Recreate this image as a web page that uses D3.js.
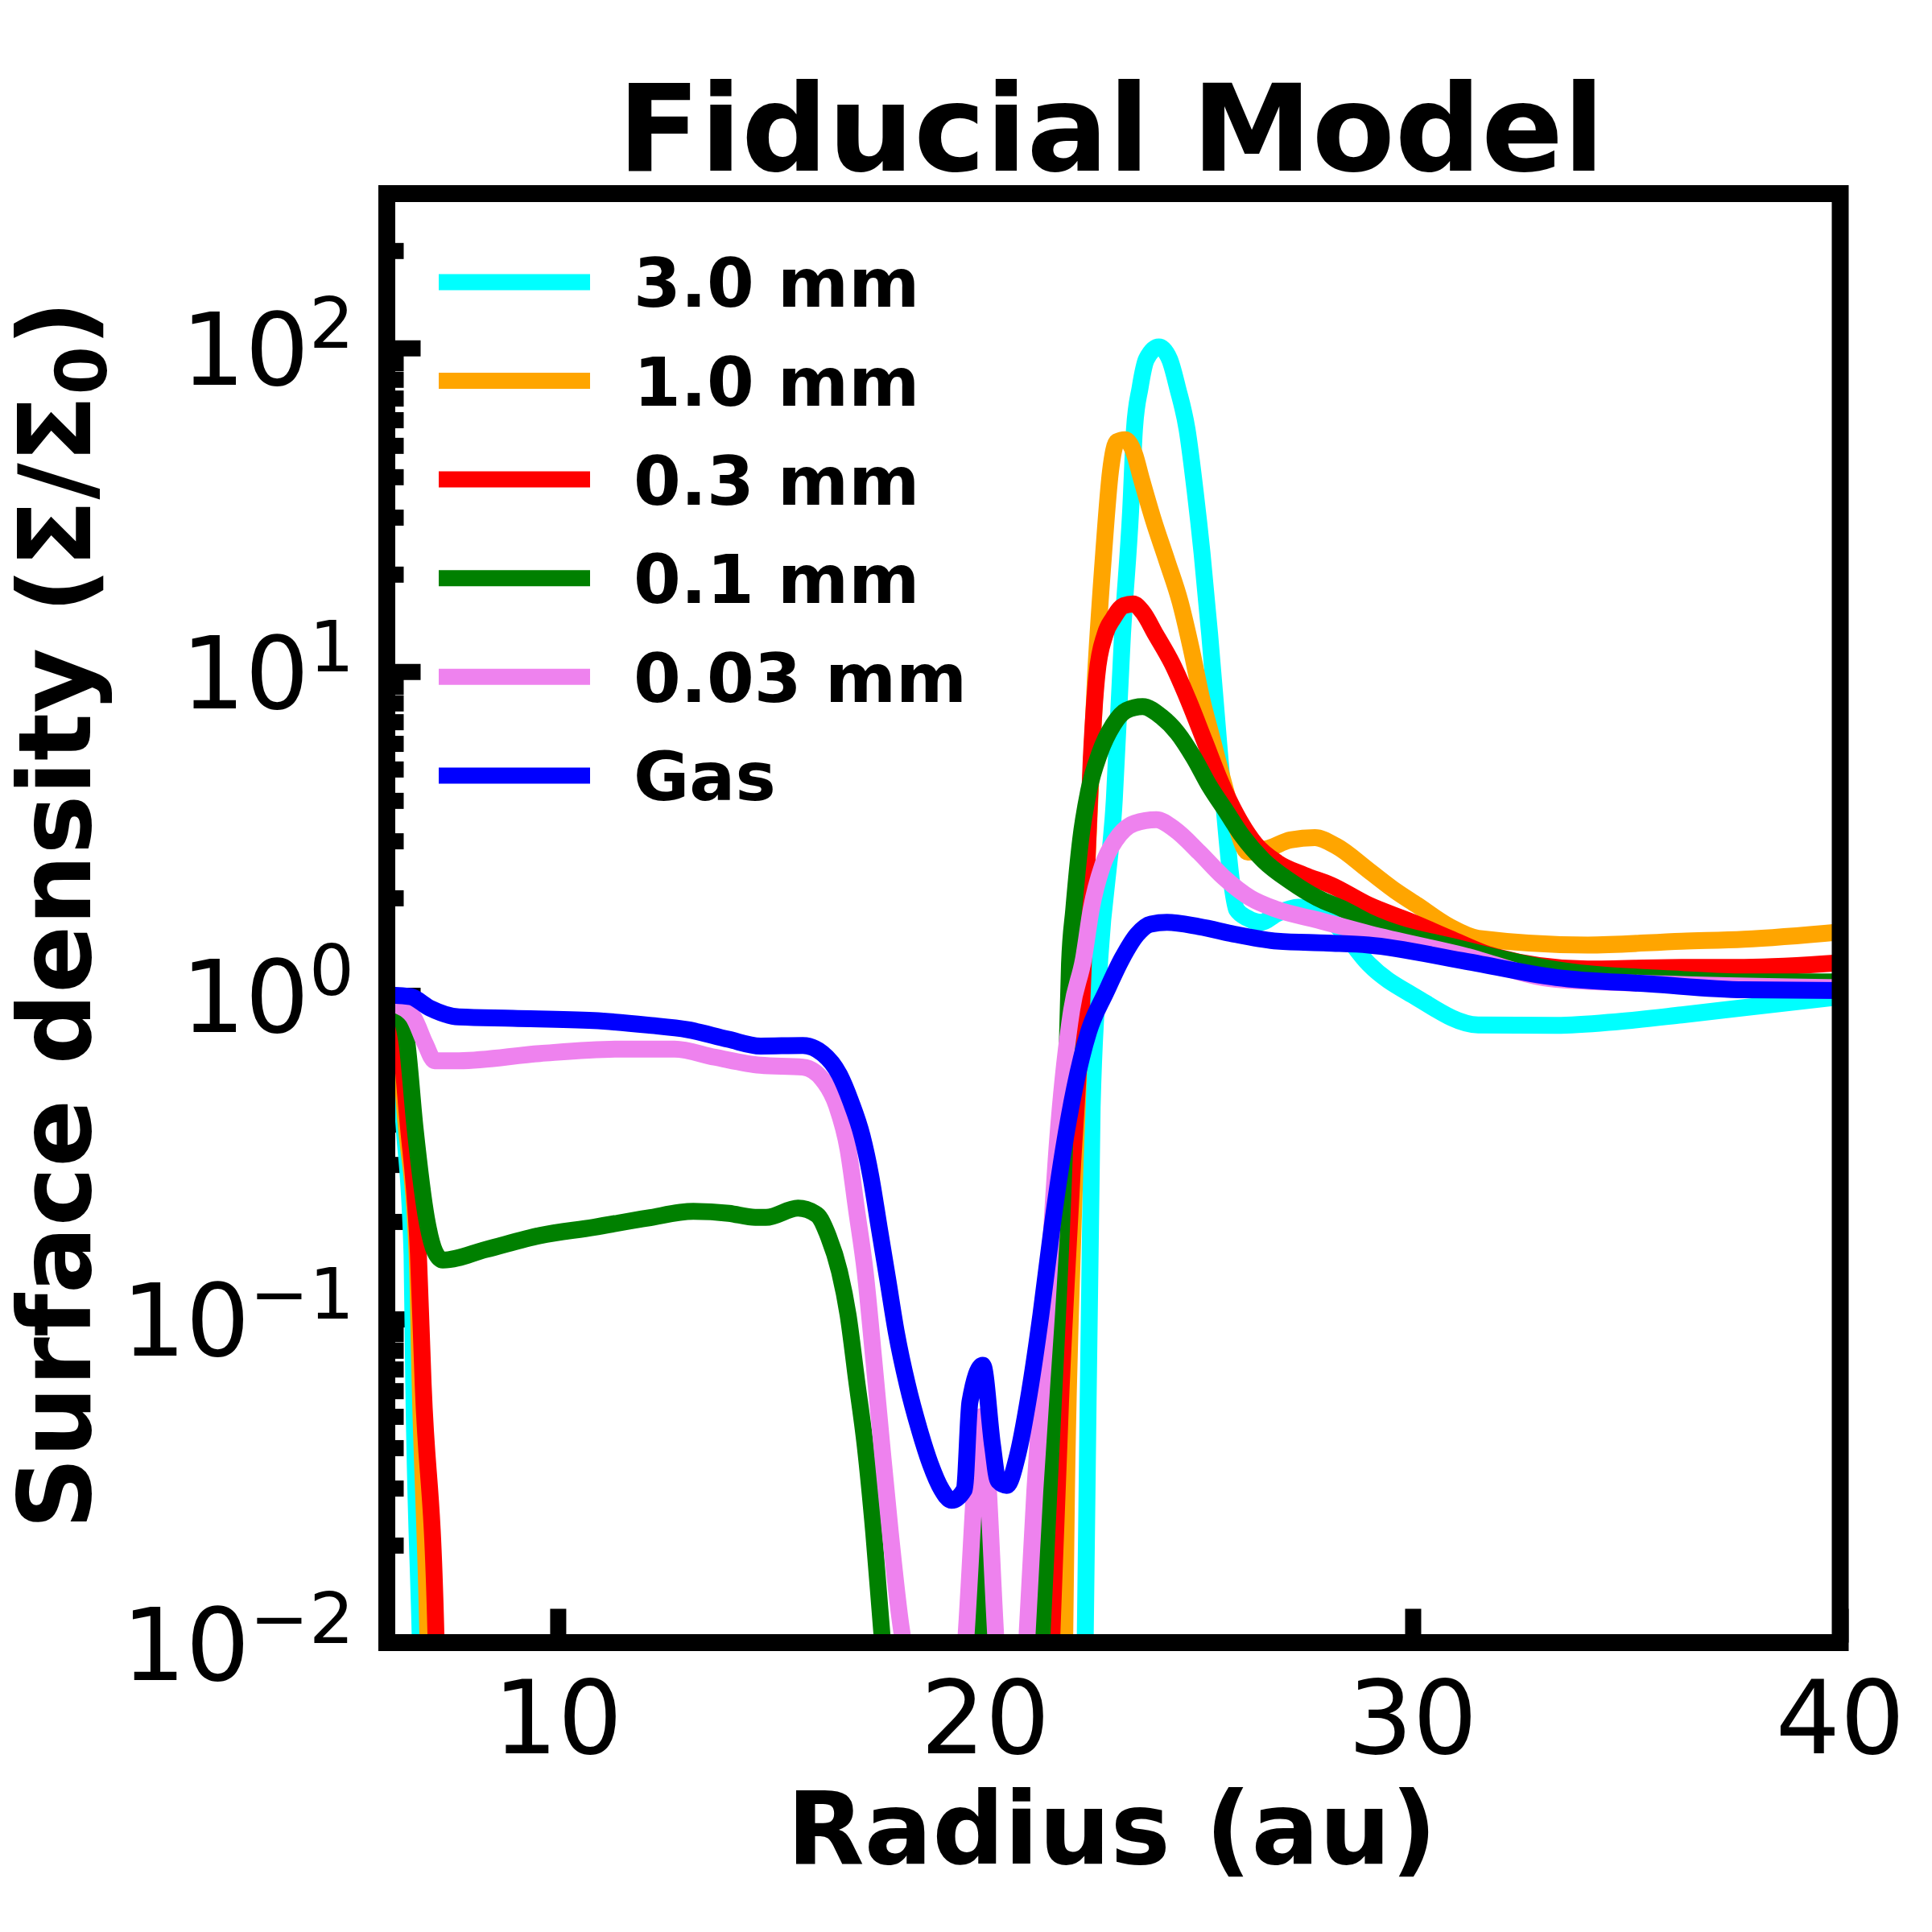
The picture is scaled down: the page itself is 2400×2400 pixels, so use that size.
<!DOCTYPE html>
<html>
<head>
<meta charset="utf-8">
<script src="https://cdn.jsdelivr.net/npm/d3@7"></script>
<style>
html, body { margin: 0; padding: 0; background: #ffffff; }
svg { display: block; font-family: 'DejaVu Sans', sans-serif; }
</style>
</head>
<body>
<svg id="chart" width="2400" height="2400"></svg>
<script>
// ---------------- DATA ----------------
const seriesNames  = ["3.0 mm", "1.0 mm", "0.3 mm", "0.1 mm", "0.03 mm", "Gas"];
const seriesColors = ["#00ffff", "#ffa500", "#ff0000", "#008000", "#ee82ee", "#0000ff"];

// 3.0 mm dust
const radius3mm = [6.0, 6.19, 6.4, 6.59, 6.63, 6.78, 6.95, 22.2, 22.34, 22.5, 22.68, 23.02, 23.21, 23.40, 23.49, 23.62, 23.77, 24.06, 24.31, 24.50, 24.72, 24.91, 25.07, 25.25, 25.41, 25.57, 25.76, 25.88, 26.14, 26.45, 26.83, 27.33, 27.77, 28.3, 28.97, 30.06, 31.53, 33.36, 34.82, 36.29, 37.75, 40.0];
const sigma3mm  = [0.97, 0.93, 0.40, 0.158, 0.063, 0.0105, 0.001, 0.001, 0.0107, 0.45, 1.3, 4.05, 13.0, 31.3, 56.1, 75.2, 92.3, 100.7, 92.3, 75.2, 56.1, 36.1, 23.3, 13.0, 7.26, 4.05, 2.25, 1.84, 1.73, 1.68, 1.79, 1.87, 1.84, 1.6, 1.25, 0.99, 0.81, 0.807, 0.83, 0.87, 0.916, 0.99];

// 1.0 mm dust
const radius1mm = [6.0, 6.19, 6.45, 6.71, 6.78, 6.96, 7.1, 21.78, 21.86, 21.9, 21.99, 22.12, 22.35, 22.58, 22.77, 22.93, 23.08, 23.27, 23.49, 23.65, 23.93, 24.25, 24.56, 24.81, 25.07, 25.32, 25.57, 25.88, 26.14, 26.64, 27.14, 27.71, 28.21, 28.97, 29.6, 30.1, 30.86, 31.53, 34.09, 36.29, 37.75, 40.0];
const sigma1mm  = [0.97, 0.93, 0.40, 0.158, 0.063, 0.0105, 0.001, 0.001, 0.0107, 0.0295, 0.102, 0.355, 2.1, 9.73, 23.3, 41.7, 51.3, 52.1, 47.1, 39.5, 29.5, 22.0, 16.4, 11.9, 8.17, 6.10, 4.55, 3.30, 2.77, 2.85, 3.02, 3.07, 2.89, 2.43, 2.1, 1.9, 1.63, 1.50, 1.43, 1.47, 1.49, 1.57];

// 0.3 mm dust
const radius03mm = [6.0, 6.19, 6.5, 6.74, 6.85, 7.15, 7.3, 21.28, 21.56, 21.76, 22.02, 22.29, 22.36, 22.48, 22.61, 22.8, 22.99, 23.24, 23.46, 23.68, 23.99, 24.37, 24.75, 25.13, 25.51, 25.88, 26.32, 26.83, 27.46, 28.09, 28.97, 30.0, 30.86, 31.9, 34.09, 36.29, 37.75, 40.0];
const sigma03mm  = [0.97, 0.93, 0.40, 0.158, 0.063, 0.0105, 0.001, 0.001, 0.0107, 0.055, 0.263, 1.2, 2.25, 5.42, 9.73, 13.0, 14.6, 16.0, 16.2, 15.3, 13.0, 10.6, 8.17, 6.10, 4.55, 3.60, 2.93, 2.57, 2.35, 2.19, 1.9, 1.68, 1.5, 1.32, 1.205, 1.22, 1.22, 1.26];

// 0.1 mm dust
const radius01mm = [6.0, 6.19, 6.46, 6.66, 6.93, 7.12, 7.31, 8.32, 9.58, 10.84, 12.1, 13.17, 14.0, 14.62, 14.87, 15.62, 16.06, 16.33, 16.59, 16.79, 16.99, 17.19, 17.39, 17.58, 17.8, 18.3, 19.8, 19.92, 20.04, 20.96, 21.33, 21.49, 21.69, 21.86, 21.97, 22.07, 22.23, 22.42, 22.67, 22.99, 23.3, 23.68, 24.12, 24.5, 24.88, 25.25, 25.63, 26.01, 26.51, 27.14, 27.77, 28.4, 28.97, 31.16, 33.36, 36.29, 37.75, 40.0];
const sigma01mm  = [0.97, 0.94, 0.73, 0.39, 0.204, 0.162, 0.152, 0.164, 0.181, 0.192, 0.205, 0.215, 0.212, 0.206, 0.206, 0.22, 0.21, 0.18, 0.14, 0.103, 0.0646, 0.0407, 0.0219, 0.0107, 0.005, 0.001, 0.001, 0.025, 0.001, 0.001, 0.0107, 0.0295, 0.102, 0.355, 1.25, 1.84, 3.02, 4.29, 5.57, 6.84, 7.59, 7.80, 7.26, 6.46, 5.42, 4.42, 3.71, 3.11, 2.61, 2.25, 2.0, 1.84, 1.68, 1.39, 1.20, 1.12, 1.10, 1.10];

// 0.03 mm dust
const radius003mm = [6.0, 6.2, 6.62, 6.9, 7.12, 7.69, 9.58, 11.47, 12.73, 13.67, 14.74, 15.73, 16.19, 16.52, 16.79, 16.99, 17.19, 17.39, 17.58, 17.78, 18.01, 18.11, 18.5, 19.05, 19.55, 19.92, 20.24, 20.62, 20.98, 21.16, 21.43, 21.69, 22.02, 22.3, 22.48, 22.74, 23.05, 23.49, 24.0, 24.44, 25.0, 25.57, 26.2, 26.83, 27.77, 28.97, 31.16, 33.36, 36.29, 40.0];
const sigma003mm  = [0.97, 0.94, 0.857, 0.708, 0.628, 0.628, 0.661, 0.682, 0.682, 0.644, 0.608, 0.60, 0.55, 0.457, 0.334, 0.217, 0.140, 0.0753, 0.0406, 0.0218, 0.0117, 0.0095, 0.004, 0.001, 0.0105, 0.05, 0.0107, 0.001, 0.0107, 0.0295, 0.102, 0.355, 0.90, 1.3, 1.85, 2.51, 3.02, 3.40, 3.49, 3.25, 2.77, 2.32, 2.0, 1.84, 1.71, 1.55, 1.33, 1.12, 1.08, 1.055];

// Gas
const radiusGas = [6.0, 6.2, 6.56, 7.0, 7.69, 8.95, 10.84, 12.1, 13.04, 13.99, 14.74, 15.73, 16.19, 16.59, 16.85, 17.12, 17.32, 17.52, 17.72, 17.92, 18.18, 18.45, 18.71, 18.98, 19.21, 19.51, 19.64, 19.94, 20.17, 20.30, 20.5, 20.76, 21.03, 21.3, 21.56, 21.83, 22.09, 22.42, 22.82, 23.2, 23.55, 23.87, 24.25, 25.0, 25.88, 26.83, 28.0, 28.97, 31.16, 33.36, 35.55, 37.75, 40.0];
const sigmaGas  = [1.0, 1.0, 0.99, 0.914, 0.857, 0.849, 0.836, 0.809, 0.783, 0.731, 0.697, 0.70, 0.662, 0.568, 0.471, 0.367, 0.277, 0.191, 0.132, 0.0908, 0.0625, 0.0459, 0.0358, 0.0297, 0.0275, 0.0297, 0.0553, 0.0719, 0.0406, 0.0316, 0.0306, 0.0381, 0.0589, 0.1028, 0.191, 0.334, 0.516, 0.773, 1.02, 1.3, 1.54, 1.66, 1.68, 1.63, 1.54, 1.47, 1.45, 1.43, 1.28, 1.135, 1.084, 1.04, 1.035];

const seriesRadii  = [radius3mm, radius1mm, radius03mm, radius01mm, radius003mm, radiusGas];
const seriesSigmas = [sigma3mm, sigma1mm, sigma03mm, sigma01mm, sigma003mm, sigmaGas];

const xTickValues = [10, 20, 30, 40];
const yMajorValues = [0.01, 0.1, 1, 10, 100];
const yMajorExponents = ["\u22122", "\u22121", "0", "1", "2"];

const titleText = "Fiducial Model";
const xLabelText = "Radius (au)";

// ---------------- LAYOUT ----------------
const svg = d3.select("#chart");
const L = 480.5, R = 2286, T = 240.5, B = 2040.5;

const x = d3.scaleLinear().domain([6, 40]).range([L, R]);
const y = d3.scaleLog().domain([0.01, 300]).range([B, T]);

svg.append("rect").attr("x", 0).attr("y", 0).attr("width", 2400).attr("height", 2400).attr("fill", "#ffffff");

// clip
svg.append("defs").append("clipPath").attr("id", "plotclip")
  .append("rect").attr("x", L).attr("y", T).attr("width", R - L).attr("height", B - T);

// ---- ticks (drawn under the lines) ----
const minorY = y.ticks().filter(v => !yMajorValues.some(m => Math.abs(Math.log10(v) - Math.log10(m)) < 1e-6));

const gMinor = svg.append("g").attr("transform", `translate(${L},0)`)
  .call(d3.axisLeft(y).tickValues(minorY).tickSize(-21).tickFormat(""));
const gMajorY = svg.append("g").attr("transform", `translate(${L},0)`)
  .call(d3.axisLeft(y).tickValues(yMajorValues).tickSize(-42).tickFormat(""));
const gMajorX = svg.append("g").attr("transform", `translate(0,${B})`)
  .call(d3.axisBottom(x).tickValues(xTickValues).tickSize(-42).tickFormat(""));

[gMinor, gMajorY, gMajorX].forEach(g => {
  g.select(".domain").remove();
  g.selectAll(".tick line").attr("stroke", "#000").attr("stroke-width", 20);
});

// ---- data lines ----
const line = d3.line()
  .x(d => x(d[0]))
  .y(d => y(d[1]))
  .curve(d3.curveMonotoneX);

const gLines = svg.append("g").attr("clip-path", "url(#plotclip)");
seriesNames.forEach((name, i) => {
  const pts = seriesRadii[i].map((r, j) => [r, seriesSigmas[i][j]]);
  gLines.append("path")
    .attr("d", line(pts))
    .attr("fill", "none")
    .attr("stroke", seriesColors[i])
    .attr("stroke-width", 21)
    .attr("stroke-linejoin", "round")
    .attr("stroke-linecap", "butt");
});

// ---- frame (spines) ----
svg.append("rect")
  .attr("x", L).attr("y", T).attr("width", R - L).attr("height", B - T)
  .attr("fill", "none").attr("stroke", "#000").attr("stroke-width", 21)
  .attr("stroke-linejoin", "miter");

// ---- y tick labels ----
yMajorValues.forEach((v, i) => {
  const t = svg.append("text")
    .attr("x", 440).attr("y", y(v) + 46)
    .attr("text-anchor", "end")
    .attr("font-size", 125)
    .attr("fill", "#000");
  t.append("tspan").text("10");
  t.append("tspan").attr("font-size", 88).attr("dy", -46).text(yMajorExponents[i]);
});

// ---- x tick labels ----
xTickValues.forEach(v => {
  svg.append("text")
    .attr("x", x(v)).attr("y", 2178)
    .attr("text-anchor", "middle")
    .attr("font-size", 126)
    .attr("fill", "#000")
    .text(v);
});

// ---- title & axis labels ----
svg.append("text")
  .attr("x", (L + R) / 2 - 3).attr("y", 212)
  .attr("text-anchor", "middle")
  .attr("font-size", 150).attr("font-weight", "bold")
  .text(titleText);

svg.append("text")
  .attr("x", (L + R) / 2 - 2).attr("y", 2315)
  .attr("text-anchor", "middle")
  .attr("font-size", 125).attr("font-weight", "bold")
  .text(xLabelText);

const yl = svg.append("text")
  .attr("transform", `translate(112,${(T + B) / 2 - 4}) rotate(-90)`)
  .attr("text-anchor", "middle")
  .attr("font-size", 124).attr("font-weight", "bold");
yl.append("tspan").text("Surface density (\u03A3/\u03A3");
yl.append("tspan").attr("font-size", 87).attr("dy", 20).text("0");
yl.append("tspan").attr("dy", -20).text(")");

// ---- legend ----
const legTop = 350.4, legStep = 122.6;
seriesNames.forEach((name, i) => {
  const ly = legTop + i * legStep;
  svg.append("line")
    .attr("x1", 545).attr("x2", 733).attr("y1", ly).attr("y2", ly)
    .attr("stroke", seriesColors[i]).attr("stroke-width", 20);
  svg.append("text")
    .attr("x", 787).attr("y", ly + 31)
    .attr("font-size", 84.5).attr("font-weight", "bold")
    .attr("fill", "#000")
    .text(name);
});
</script>
</body>
</html>
